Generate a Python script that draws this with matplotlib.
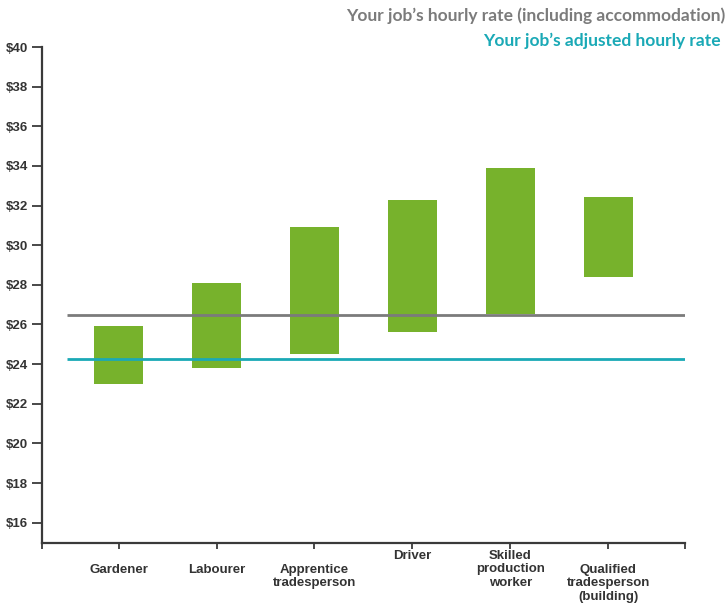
import matplotlib.pyplot as plt
from matplotlib.transforms import blended_transform_factory

# hourly rate range for each job (low, high), dollars
jobs = ["Gardener", "Labourer", "Apprentice\ntradesperson", "Driver",
        "Skilled\nproduction\nworker", "Qualified\ntradesperson\n(building)"]
rate_low = [23.0, 23.8, 24.5, 25.6, 26.55, 28.4]
rate_high = [25.9, 28.1, 30.9, 32.3, 33.9, 32.45]

hourly_incl_accom = 26.5
adjusted_hourly = 24.25

yticks = list(range(16, 41, 2))
ytick_labels = [f"${v}" for v in yticks]

GREEN = "#77b22c"
GREY = "#7b7b7b"
TEAL = "#1aa9b6"
AXIS = "#3a3a3a"

plt.rcParams['font.family'] = ['Liberation Sans Narrow', 'Liberation Sans', 'DejaVu Sans']

fig = plt.figure(figsize=(7.28, 6.05), dpi=100)
ax = fig.add_axes([42 / 728, 1 - 542.5 / 605, (685 - 42) / 728, (542.5 - 47) / 605])

x = list(range(1, len(jobs) + 1))
heights = [h - l for l, h in zip(rate_low, rate_high)]
ax.bar(x, heights, bottom=rate_low, width=0.5, color=GREEN, zorder=2)

ax.hlines(hourly_incl_accom, 0.47, 6.785, color=GREY, lw=2.0, zorder=3)
ax.hlines(adjusted_hourly, 0.47, 6.785, color=TEAL, lw=2.0, zorder=3)

ax.set_xlim(0.217, 6.785)
ax.set_ylim(15, 40)

for side in ("top", "right"):
    ax.spines[side].set_visible(False)
for side in ("left", "bottom"):
    ax.spines[side].set_color(AXIS)
    ax.spines[side].set_linewidth(1.6)

ax.set_yticks(yticks)
ax.set_yticklabels(ytick_labels, fontsize=9.5, fontweight="bold", color="#333333")
ax.tick_params(axis="y", length=7, width=1.3, color=AXIS, pad=3)

# end ticks on the x axis plus one per job
ax.set_xticks([0.217] + x + [6.785])
ax.set_xticklabels([])
ax.tick_params(axis="x", length=4, width=1.3, color=AXIS)

# job names sit under their ticks; Driver and Skilled start one line higher
trans = blended_transform_factory(ax.transData, fig.transFigure)
label_top = [569, 569, 569, 555, 555, 569]
for xi, name, top in zip(x, jobs, label_top):
    ax.text(xi, 1 - (top - 5) / 605, name, transform=trans, ha="center", va="top",
            fontsize=9.5, fontweight="bold", color="#333333", linespacing=1.15)

fig.text(725 / 728, 1 - 16 / 605, "Your job’s hourly rate (including accommodation)",
         ha="right", va="center", fontsize=12.5, fontweight="bold", color=GREY,
         family=["Lato", "DejaVu Sans"])
fig.text(721 / 728, 1 - 41 / 605, "Your job’s adjusted hourly rate",
         ha="right", va="center", fontsize=12.5, fontweight="bold", color=TEAL,
         family=["Lato", "DejaVu Sans"])

fig.savefig("out.png", dpi=100)
